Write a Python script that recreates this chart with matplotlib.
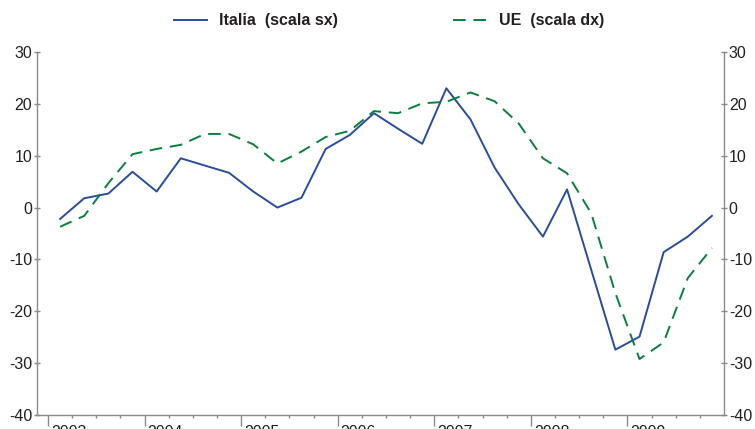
import numpy as np
import matplotlib
matplotlib.use("Agg")
import matplotlib.pyplot as plt
import matplotlib.transforms as mtransforms
from matplotlib.ticker import FixedLocator, NullFormatter

plt.rcParams['font.family'] = ['Liberation Sans', 'DejaVu Sans']
plt.rcParams['axes.unicode_minus'] = False

# quarterly data 2003Q1 - 2009Q4
quarters = np.arange(2003, 2010, 0.25) + 0.125
italia = [-2.2, 1.8, 2.7, 6.9, 3.1, 9.5, 8.1, 6.7,
          3.1, 0.0, 1.9, 11.3, 14.0, 18.2, 15.2, 12.3,
          23.0, 17.0, 7.7, 0.6, -5.6, 3.5, -12.0, -27.4,
          -24.9, -8.6, -5.6, -1.6]
ue = [-3.7, -1.6, 4.7, 10.3, 11.3, 12.1, 14.2, 14.2,
      12.2, 8.5, 10.8, 13.6, 14.8, 18.6, 18.2, 20.1,
      20.4, 22.2, 20.5, 16.2, 9.5, 6.6, -1.1, -16.5,
      -29.2, -26.0, -13.6, -7.8]
years = list(range(2003, 2010))

blue = '#2b4b9f'
green = '#0b7d3e'
spine_col = '#8a8a8a'
text_col = '#231f20'

fig = plt.figure(figsize=(7.55, 4.29), dpi=100)
ax = fig.add_axes([37 / 755, 1 - 415 / 429, (724 - 37) / 755, (415 - 52) / 429])
ax2 = ax.twinx()

l1, = ax.plot(quarters, italia, color=blue, lw=1.4)
l2, = ax2.plot(quarters, ue, color=green, lw=1.4, dashes=(6.5, 4))

for a in (ax, ax2):
    a.set_xlim(2002.886, 2010)
    a.set_ylim(-40, 30)
    a.set_yticks(range(-40, 31, 10))
    a.spines['top'].set_visible(False)
    for s in a.spines.values():
        s.set_color(spine_col)
        s.set_linewidth(1.0)
    a.tick_params(axis='y', colors=spine_col, labelcolor=text_col,
                  labelsize=11.5, length=5, width=1, direction='inout', pad=1)

ax.spines['right'].set_visible(False)
ax2.spines['left'].set_visible(False)
ax2.spines['bottom'].set_visible(False)

ax.set_xticks(years)
ax.set_xticklabels([str(y) for y in years], ha='left')
ax.xaxis.set_minor_locator(FixedLocator([y + q for y in years for q in (0.25, 0.5, 0.75)]))
ax.xaxis.set_minor_formatter(NullFormatter())
ax.tick_params(axis='x', which='major', direction='out', length=8, width=1,
               colors=spine_col, labelcolor=text_col, labelsize=11.5, pad=-1)
ax.tick_params(axis='x', which='minor', direction='out', length=2.5, width=1,
               colors=spine_col)

# year labels sit just right of their tick
shift = mtransforms.ScaledTranslation(3 / 100, 0, fig.dpi_scale_trans)
for lab in ax.get_xticklabels():
    lab.set_transform(lab.get_transform() + shift)

fig.legend([l1, l2], ['Italia  (scala sx)', 'UE  (scala dx)'],
           loc='center', bbox_to_anchor=(389 / 755, 0.952), ncol=2, frameon=False,
           prop={'weight': 'bold', 'size': 11.5}, handlelength=2.1,
           handletextpad=0.75, columnspacing=7.2, labelcolor=text_col)

fig.savefig('out.png', dpi=100)
